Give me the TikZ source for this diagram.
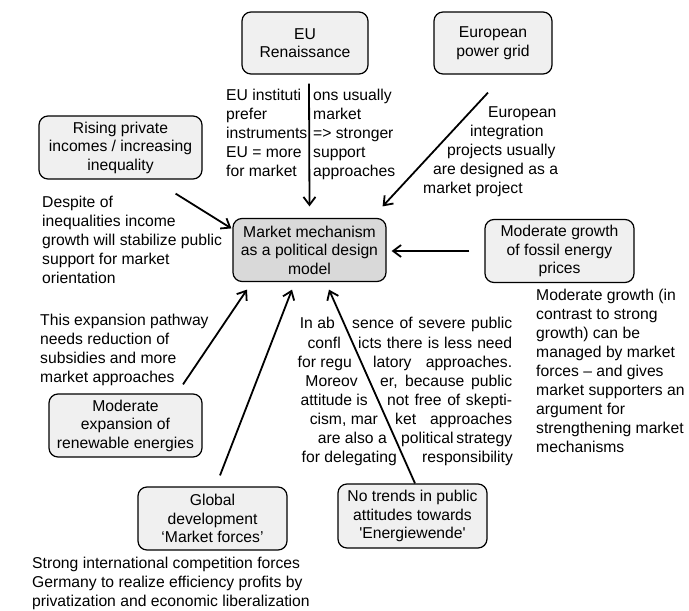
\documentclass[tikz,border=0pt]{standalone}
\usepackage{fontspec}
\setmainfont{Liberation Sans}
\usepackage{tikz}
\usetikzlibrary{arrows.meta, calc, positioning}

\definecolor{boxgray}{HTML}{F0F0F0}
\definecolor{maingray}{HTML}{D9D9D9}

\tikzset{
  box/.style={draw, line width=1.2pt, rounded corners=9pt, fill=boxgray, align=center, inner sep=0pt, font=\fontsize{15.7}{18.5}\selectfont},
  note/.style={anchor=north west, align=left, inner sep=0pt, font=\fontsize{15.7}{19}\selectfont, execute at begin node=\strut},
  piece/.style={inner sep=0pt, font=\fontsize{15.7}{19}\selectfont},
  arr/.style={-{Straight Barb[length=8pt,width=12pt]}, line width=1.8pt}
}

\begin{document}
\begin{tikzpicture}[x=1pt, y=-1pt]
\useasboundingbox (0,0) rectangle (689,611);

% boxes
\node[box, minimum width=126pt, minimum height=62pt] (eu) at (305,43) {EU\\Renaissance};
\node[box, minimum width=118pt, minimum height=62pt] (grid) at (493,43) {European\\power grid};
\node[box, minimum width=163pt, minimum height=63pt] (rising) at (120.5,147.5) {Rising private\\incomes / increasing\\inequality};
\node[box, fill=maingray, minimum width=153pt, minimum height=63pt] (market) at (309.5,250) {Market mechanism\\as a political design\\model};
\node[box, minimum width=149pt, minimum height=63pt] (fossil) at (559.5,251) {Moderate growth\\of fossil energy\\prices};
\node[box, minimum width=153pt, minimum height=63pt] (renew) at (125.5,425.5) {Moderate\\expansion of\\renewable energies};
\node[box, minimum width=149pt, minimum height=63pt] (global) at (212.5,518.5) {Global\\development\\‘Market forces’};
\node[box, minimum width=149pt, minimum height=64pt] (trends) at (412.5,516) {No trends in public\\attitudes towards\\\textquotesingle Energiewende\textquotesingle};

% notes
\node[note] (euleft) at (226,89) {EU instituti\\prefer\\instruments\\EU = more\\for market};
\node[note] (euright) at (313,89) {ons usually\\market\\=> stronger\\support\\approaches};
\node[note] (gridnote) at (423,106) {\hspace*{65pt}European\\\hspace*{47pt}integration\\\hspace*{24pt}projects usually\\\hspace*{10pt}are designed as a\\market project};
\node[note] (despite) at (42,196) {Despite of\\inequalities income\\growth will stabilize public\\support for market\\orientation};
\node[note] (pathway) at (40,314) {This expansion pathway\\needs reduction of\\subsidies and more\\market approaches};
\node[note] (fossilnote) at (536,289) {Moderate growth (in\\contrast to strong\\growth) can be\\managed by market\\forces – and gives\\market supporters an\\argument for\\strengthening market\\mechanisms};
\node[note] (globalnote) at (32,557) {Strong international competition forces\\Germany to realize efficiency profits by\\privatization and economic liberalization};

% split text around the arrow
\foreach \yy/\lt/\xl/\rt/\xr [count=\i] in {
  323/In ab/335/sence of severe public/352,
  342.5/confl/341/icts there is less need/358,
  361.5/for regu/352/latory approaches./373,
  380.5/Moreov/358/{er, because public}/380,
  399.5/attitude is/368/not free of skepti-/387,
  419/{cism, mar}/378/ket approaches/395,
  438/are also a/387/political strategy/401,
  457/for delegating/397/responsibility/422}{
  \node[piece, anchor=base east] (absL\i) at (\xl,\yy+5.5) {\lt};
  \node[piece, anchor=base west] (absR\i) at (\xr,\yy+5.5) {\makebox[\dimexpr512pt-\xr pt\relax][s]{\rt}};
}

% arrows
\draw[arr] ([shift={(4,9)}]eu.south) -- ([shift={(0,-11.5)}]market.north);
\draw[arr] ([shift={(-5,18)}]grid.south) -- ([shift={(-4,-11.5)}]market.north east);
\draw[arr] ([shift={(-27,14)}]rising.south east) -- ([shift={(-1,10.5)}]market.north west);
\draw[arr] ([shift={(-15,0)}]fossil.west) -- ([shift={(5,1)}]market.east);
\draw[arr] ([shift={(57.5,-9)}]renew.north) -- ([shift={(-62.5,7.5)}]market.south);
\draw[arr] ([shift={(7.5,-11)}]global.north) -- ([shift={(-17.5,7.5)}]market.south);
\draw[arr] ([shift={(2.5,0)}]trends.north) -- ([shift={(19.5,7.5)}]market.south);
\end{tikzpicture}
\end{document}
